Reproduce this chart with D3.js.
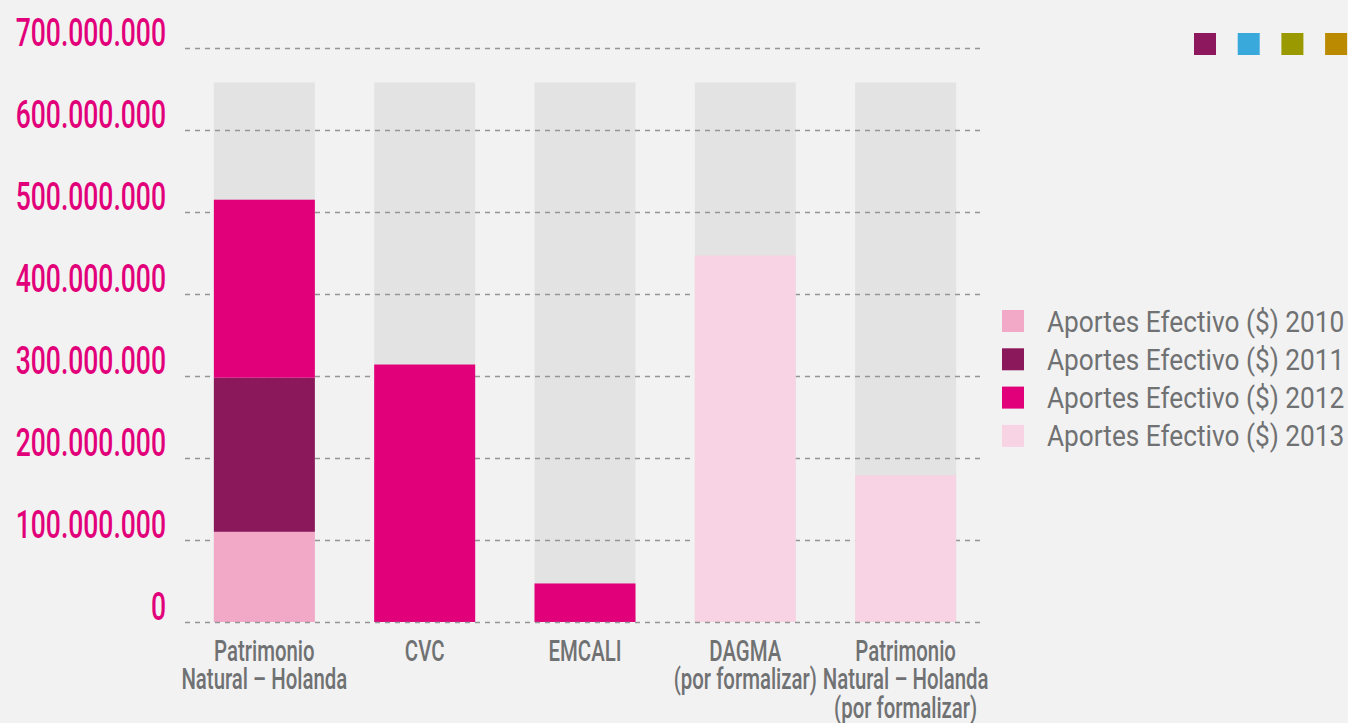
<!DOCTYPE html>
<html>
<head>
<meta charset="utf-8">
<script src="https://cdn.jsdelivr.net/npm/d3@7"></script>
<style>
	body { margin: 0; background: #f2f2f2; }
	svg { display: block; }
</style>
</head>
<body>
<svg id="chart"></svg>
<script>
const WIDTH = 1348;
const HEIGHT = 723;

const categories = [
	['Patrimonio', 'Natural – Holanda'],
	['CVC'],
	['EMCALI'],
	['DAGMA', '(por formalizar)'],
	['Patrimonio', 'Natural – Holanda', '(por formalizar)']
];
const seriesNames = ['Aportes Efectivo ($) 2010', 'Aportes Efectivo ($) 2011', 'Aportes Efectivo ($) 2012', 'Aportes Efectivo ($) 2013'];
const aportes2010 = [110000000, 0, 0, 0, 0];
const aportes2011 = [188000000, 0, 0, 0, 0];
const aportes2012 = [217000000, 314000000, 47000000, 0, 0];
const aportes2013 = [0, 0, 0, 447000000, 179000000];
const totalBar = [658000000, 658000000, 658000000, 658000000, 658000000];
const yTicks = [0, 100000000, 200000000, 300000000, 400000000, 500000000, 600000000, 700000000];
const seriesColors = ['#f2a8c7', '#8b185b', '#e2007a', '#f7d3e4'];
const cornerColors = ['#8e185d', '#39a9dc', '#9a9a00', '#bb8a00'];

const condensed = 'Roboto, "Liberation Sans", sans-serif';

const svg = d3.select('#chart')
	.attr('width', WIDTH)
	.attr('height', HEIGHT);

const fmt = d3.formatLocale({decimal: ',', thousands: '.', grouping: [3], currency: ['$', '']}).format(',d');

const x = d3.scaleBand()
	.domain(d3.range(categories.length))
	.range([185, 985])
	.paddingInner(0.37)
	.paddingOuter(0.18);

const y = d3.scaleLinear()
	.domain([0, 700000000])
	.range([622, 48]);

const rows = categories.map((c, i) => ({
	i,
	s0: aportes2010[i],
	s1: aportes2011[i],
	s2: aportes2012[i],
	s3: aportes2013[i]
}));
const stacked = d3.stack().keys(['s0', 's1', 's2', 's3'])(rows);

// grey background bars
svg.append('g')
	.selectAll('rect')
	.data(totalBar)
	.enter()
	.append('rect')
	.attr('x', (d, i) => x(i))
	.attr('width', x.bandwidth())
	.attr('y', d => y(d))
	.attr('height', d => y(0) - y(d))
	.attr('fill', '#e2e3e2');

// dashed gridlines
svg.append('g')
	.selectAll('line')
	.data(yTicks.slice(1))
	.enter()
	.append('line')
	.attr('x1', 185)
	.attr('x2', 985)
	.attr('y1', d => y(d) + 0.5)
	.attr('y2', d => y(d) + 0.5)
	.attr('stroke', '#959595')
	.attr('stroke-width', 1.4)
	.attr('stroke-dasharray', '5,5');

svg.append('g')
	.selectAll('g')
	.data(stacked)
	.enter()
	.append('g')
	.attr('fill', (d, k) => seriesColors[k])
	.selectAll('rect')
	.data(d => d.filter(p => p[1] > p[0]))
	.enter()
	.append('rect')
	.attr('x', d => x(d.data.i))
	.attr('width', x.bandwidth())
	.attr('y', d => y(d[1]))
	.attr('height', d => y(d[0]) - y(d[1]));

svg.append('line')
	.attr('x1', 185)
	.attr('x2', 985)
	.attr('y1', y(0) + 0.5)
	.attr('y2', y(0) + 0.5)
	.attr('stroke', '#959595')
	.attr('stroke-width', 1.4)
	.attr('stroke-dasharray', '5,5');

// y tick labels (narrowed to mimic the condensed face)
svg.append('g')
	.selectAll('text')
	.data(yTicks)
	.enter()
	.append('text')
	.attr('transform', d => `translate(166,${y(d) - 2}) scale(0.68,1)`)
	.attr('text-anchor', 'end')
	.attr('font-family', condensed)
	.attr('font-weight', 500)
	.attr('font-size', 39)
	.attr('fill', '#e2007a')
	.text(d => fmt(d));

// category labels
const catLabels = svg.append('g')
	.selectAll('text')
	.data(categories)
	.enter()
	.append('text')
	.attr('transform', (d, i) => `translate(${x(i) + x.bandwidth() / 2},661) scale(0.68,1)`)
	.attr('text-anchor', 'middle')
	.attr('font-family', condensed)
	.attr('font-weight', 500)
	.attr('font-size', 30)
	.attr('fill', '#707172');

catLabels.selectAll('tspan')
	.data(d => d)
	.enter()
	.append('tspan')
	.attr('x', 0)
	.attr('dy', (d, j) => j === 0 ? 0 : 28.5)
	.text(d => d);

// legend
const legend = svg.append('g')
	.selectAll('g')
	.data(seriesNames)
	.enter()
	.append('g')
	.attr('transform', (d, i) => `translate(1002,${310 + i * 38.3})`);

legend.append('rect')
	.attr('width', 22)
	.attr('height', 22)
	.attr('fill', (d, i) => seriesColors[i]);

legend.append('text')
	.attr('transform', 'translate(45,21.5) scale(0.905,1)')
	.attr('font-family', 'Roboto, "Liberation Sans", sans-serif')
	.attr('font-size', 29)
	.attr('fill', '#707172')
	.text(d => d);

// corner swatches
svg.append('g')
	.selectAll('rect')
	.data(cornerColors)
	.enter()
	.append('rect')
	.attr('x', (d, i) => 1194 + i * 43.7)
	.attr('y', 33)
	.attr('width', 22)
	.attr('height', 22)
	.attr('fill', d => d);
</script>
</body>
</html>
